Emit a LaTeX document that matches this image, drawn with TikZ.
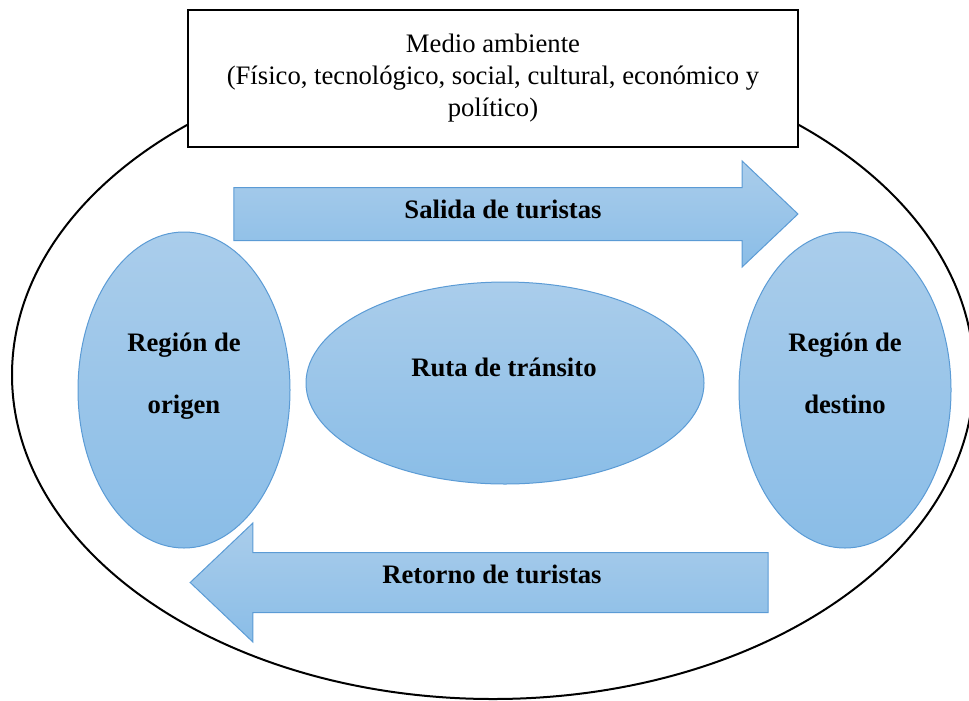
\documentclass[tikz,border=0pt]{standalone}
\usepackage{fontspec}
\setmainfont{Liberation Serif}
\usepackage{tikz}
\usetikzlibrary{shapes.geometric,shapes.arrows}
\definecolor{regtop}{HTML}{AACDEB}
\definecolor{regbot}{HTML}{8ABDE7}
\definecolor{regline}{HTML}{5B9BD5}
\newcommand\U{0.75pt}
\newcommand\F{\fontsize{20}{24}\selectfont}

\begin{document}
\begin{tikzpicture}[x=\U,y=-\U,semithick]

  \tikzstyle{region}=[ellipse,draw=regline,line width=\U,top color=regtop,
                      bottom color=regbot,inner sep=0pt]
  \tikzstyle{flow}=[single arrow,draw=regline,line width=\U,top color=regtop,
                    bottom color=regbot,inner xsep=0pt,single arrow tip angle=87,
                    single arrow head indent=0pt]
  \tikzstyle{lbl}=[font=\F\bfseries,align=center,inner sep=0pt]

  \useasboundingbox (0,0) rectangle (969,700);

  \node[ellipse,draw,line width=2*\U,inner sep=0pt,
        minimum width=962*\U,minimum height=648*\U] (env) at (493,375) {};
  \node[draw,fill=white,line width=2*\U,minimum width=610*\U,minimum height=137*\U,
        font=\F,align=center] (medio) at (493,78.5)
        {Medio ambiente\\(Físico, tecnológico, social, cultural, económico y\\político)};

  \node[flow,minimum height=564*\U,inner ysep=26*\U,
        single arrow head extend=26.5*\U] (salida) at (502,214) {};
  \node[flow,shape border rotate=180,minimum height=578*\U,inner ysep=29.5*\U,
        single arrow head extend=29.5*\U] (retorno) at (495,582.5) {};

  \node[region,minimum width=212*\U,minimum height=316*\U] (orig) at (184,390) {};
  \node[region,minimum width=212*\U,minimum height=316*\U] (dest) at (845,390) {};
  \node[region,minimum width=398*\U,minimum height=202*\U] (ruta) at (505,383) {};

  \node[lbl] (salidaT)  at (503,209)   {Salida de turistas};
  \node[lbl] (retornoT) at (492,574.5) {Retorno de turistas};
  \node[lbl] (rutaT)    at (504,367.5) {Ruta de tránsito};
  \node[lbl,font=\fontsize{20}{46.5}\selectfont\bfseries] (origT) at (184,376.5)
        {Región de\\origen};
  \node[lbl,font=\fontsize{20}{46.5}\selectfont\bfseries] (destT) at (845,373.5)
        {Región de\\destino};
\end{tikzpicture}
\end{document}
